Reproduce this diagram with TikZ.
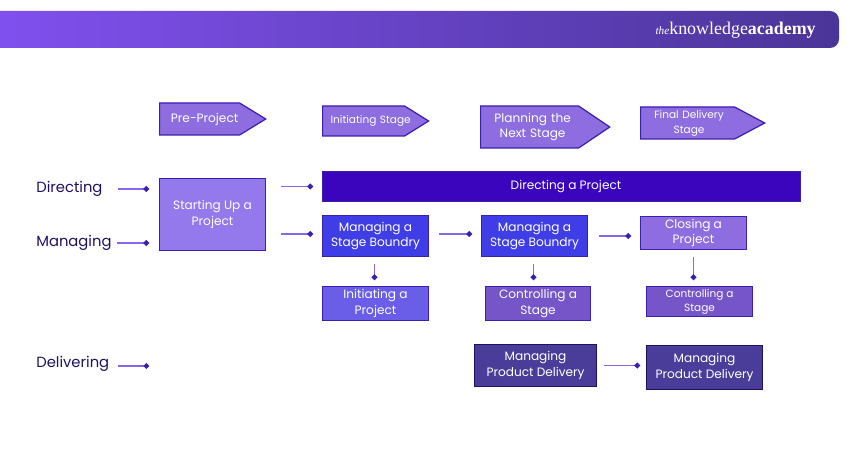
\documentclass[tikz,border=0pt]{standalone}
\usepackage{fontspec}
\setmainfont{Poppins}
\newfontfamily\logofont{Liberation Serif}
\usetikzlibrary{arrows.meta,shapes.symbols}
\definecolor{inkblue}{HTML}{1F1060}
\definecolor{linkviolet}{HTML}{8468E6}
\definecolor{tipviolet}{HTML}{3A1FB0}
\definecolor{signviolet}{HTML}{8E6DE0}
\definecolor{startviolet}{HTML}{9379EC}
\definecolor{barviolet}{HTML}{3A05BD}
\definecolor{boundblue}{HTML}{3F3EE6}
\definecolor{initviolet}{HTML}{6A5DE8}
\definecolor{ctrlviolet}{HTML}{7655C8}
\definecolor{prodviolet}{HTML}{4A3D9A}
\definecolor{bannerleft}{HTML}{8050EE}
\definecolor{bannermid}{HTML}{5C3EB4}
\definecolor{bannerright}{HTML}{4A3598}
\tikzset{
  stagebox/.style={draw=tipviolet, line width=0.7pt, text=white, align=center, inner sep=0pt,
    font=\fontsize{6.9}{9}\selectfont, fill=#1},
  stagesign/.style={stagebox=#1, shape=signal, signal to=east, anchor=west},
  rowlabel/.style={anchor=west, inner sep=0pt, text=inkblue, font=\fontsize{8.4}{10}\selectfont},
  link/.style={linkviolet, line width=1.1pt, -{Circle[length=3pt,color=tipviolet]}},
}
\begin{document}
\begin{tikzpicture}
    \useasboundingbox (0, 0) rectangle (17, 9) ;
    % banner
    \shade[left color=bannerleft, middle color=bannermid, right color=bannerright]
      (0, 8.04) -- (16.6, 8.04) arc (-90:0:0.18) -- (16.78, 8.6) arc (0:90:0.18) -- (0, 8.78) -- cycle ;
    \node[anchor=east, inner sep=0pt, text=white, font=\logofont\fontsize{10.2}{11}\selectfont] (logo) at (16.32, 8.4)
      {{\itshape\fontsize{6.4}{8}\selectfont the}knowledge\textbf{academy}} ;
    % stages
    \node[stagesign=signviolet, signal pointer angle=63, text width=1.6cm, minimum height=0.64cm] (pre) at (3.18, 6.62) {\hspace*{0.2cm}Pre-Project} ;
    \node[stagesign=signviolet, signal pointer angle=64, text width=1.64cm, minimum height=0.6cm, font=\fontsize{6}{8}\selectfont] (init) at (6.44, 6.58) {\makebox[1.64cm][l]{\hspace{0.16cm}Initiating Stage}} ;
    \node[stagesign=signviolet, signal pointer angle=68, text width=1.96cm, minimum height=0.84cm] (plan) at (9.6, 6.46) {\hspace*{0.12cm}Planning the\\\hspace*{0.12cm}Next Stage} ;
    \node[stagesign=signviolet, signal pointer angle=56, text width=1.88cm, minimum height=0.64cm, font=\fontsize{6}{8.5}\selectfont] (final) at (12.8, 6.54) {\hspace*{0.06cm}Final Delivery\\\hspace*{0.06cm}Stage} ;
    % rows
    \node[rowlabel] (dir) at (0.72, 5.22) {Directing} ;
    \node[rowlabel] (mng) at (0.72, 4.14) {Managing} ;
    \node[rowlabel] (dlv) at (0.72, 1.72) {Delivering} ;
    \coordinate (dlvend) at (2.98, 1.68) ;
    % boxes
    \node[stagebox=startviolet, minimum width=2.12cm, minimum height=1.44cm] (start) at (4.25, 4.71) {Starting Up a\\Project} ;
    \node[stagebox=barviolet, minimum width=9.56cm, minimum height=0.6cm] (bar) at (11.23, 5.27) {\hspace*{0.18cm}Directing a Project} ;
    \node[stagebox=boundblue, minimum width=2.12cm, minimum height=0.82cm] (bound1) at (7.51, 4.28) {Managing a\\Stage Boundry} ;
    \node[stagebox=boundblue, minimum width=2.12cm, minimum height=0.82cm] (bound2) at (10.69, 4.28) {Managing a\\Stage Boundry} ;
    \node[stagebox=signviolet, minimum width=2.12cm, minimum height=0.66cm] (close) at (13.87, 4.34) {Closing a\\Project} ;
    \node[stagebox=initviolet, minimum width=2.12cm, minimum height=0.68cm] (setup) at (7.51, 2.93) {Initiating a\\Project} ;
    \node[stagebox=ctrlviolet, minimum width=2.1cm, minimum height=0.68cm] (ctrl1) at (10.76, 2.93) {Controlling a\\Stage} ;
    \node[stagebox=ctrlviolet, minimum width=2.12cm, minimum height=0.6cm, font=\fontsize{6}{8}\selectfont] (ctrl2) at (13.99, 2.97) {Controlling a\\Stage} ;
    \node[stagebox=prodviolet, draw=inkblue, minimum width=2.44cm, minimum height=0.84cm] (prod1) at (10.71, 1.69) {Managing\\Product Delivery} ;
    \node[stagebox=prodviolet, draw=inkblue, minimum width=2.32cm, minimum height=0.88cm] (prod2) at (14.09, 1.65) {Managing\\Product Delivery} ;
    % connectors
    \draw[link, shorten <=0.3cm, shorten >=0.2cm] (dir.east) -- (dir.east -| start.west) ;
    \draw[link, shorten <=0.1cm, shorten >=0.2cm] (mng.east) -- (mng.east -| start.west) ;
    \draw[link, shorten <=0.16cm] (dlv.east |- dlvend) -- (dlvend) ;
    \draw[link, shorten <=0.3cm, shorten >=0.18cm] (start.east |- bar.west) -- (bar.west) ;
    \draw[link, shorten <=0.3cm, shorten >=0.18cm, transform canvas={yshift=0.04cm}] (start.east |- bound1.west) -- (bound1.west) ;
    \draw[link, shorten <=0.2cm, shorten >=0.18cm, transform canvas={yshift=0.04cm}] (bound1.east) -- (bound2.west) ;
    \draw[link, shorten <=0.22cm, shorten >=0.18cm] (bound2.east) -- (bound2.east -| close.west) ;
    \draw[link, shorten <=0.14cm, shorten >=0.12cm] (prod1.east) -- (prod1.east -| prod2.west) ;
    \draw[link, shorten <=0.14cm, shorten >=0.12cm, transform canvas={xshift=-0.02cm}] (bound1.south) -- (setup.north) ;
    \draw[link, shorten <=0.14cm, shorten >=0.12cm, transform canvas={xshift=-0.02cm}] (bound2.south) -- (bound2.south |- ctrl1.north) ;
    \draw[link, shorten <=0.14cm, shorten >=0.12cm] (close.south) -- (close.south |- ctrl2.north) ;
\end{tikzpicture}
\end{document}
